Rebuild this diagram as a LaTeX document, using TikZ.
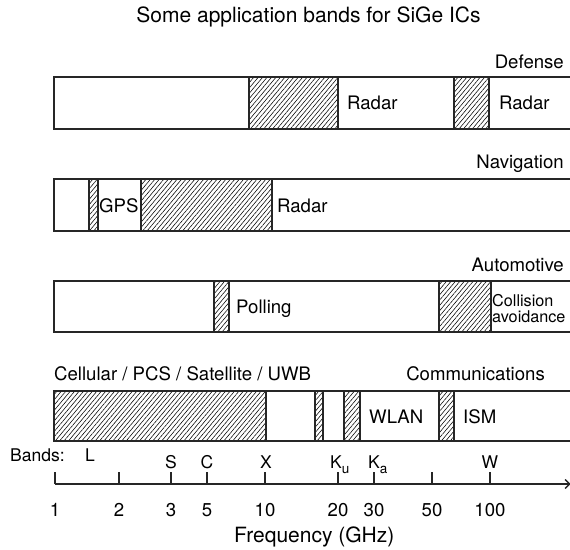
\documentclass[tikz,border=0pt]{standalone}
\usepackage{fontspec}
\setmainfont{TeX Gyre Heros}
\usetikzlibrary{patterns.meta,arrows.meta}

\begin{document}
\begin{tikzpicture}[x=1pt,y=-1pt,
  bandbox/.style={draw=black!85,line width=1.5pt},
  hatched/.style={draw=black!85,line width=1.2pt,
    pattern={Lines[angle=50,distance=3.4pt,line width=0.55pt]}},
  lab/.style={inner sep=0pt,font=\fontsize{18.6}{19}\selectfont},
  bandlab/.style={inner sep=0pt,font=\fontsize{17.5}{18}\selectfont},
  small/.style={inner sep=0pt,font=\fontsize{16.2}{16}\selectfont},
  ttl/.style={inner sep=0pt,font=\fontsize{21}{22}\selectfont},
  axttl/.style={inner sep=0pt,font=\fontsize{21}{22}\selectfont},
  axisline/.style={draw=black!85,line width=1.3pt}
]
\clip (0,0) rectangle (570,549);

% title
\node[ttl,anchor=base] (title) at (308.5,22) {Some application bands for SiGe ICs};

% ---------- Defense ----------
\node[lab,anchor=base east] (defense) at (564,68) {Defense};
\draw[hatched] (249,77) rectangle (338,129);
\draw[hatched] (454,77) rectangle (489,129);
\draw[bandbox] (54,77) rectangle (580,129);
\node[lab,anchor=base west] (radarA) at (347,109.5) {Radar};
\node[lab,anchor=base west] (radarB) at (499,109.5) {Radar};

% ---------- Navigation ----------
\node[lab,anchor=base east] (navigation) at (564,168) {Navigation};
\draw[hatched] (89,179) rectangle (98,231);
\draw[hatched] (141,179) rectangle (272,231);
\draw[bandbox] (54,179) rectangle (580,231);
\node[lab,anchor=base west] (gps) at (99,212.5) {GPS};
\node[lab,anchor=base west] (radarC) at (277,212.5) {Radar};

% ---------- Automotive ----------
\node[lab,anchor=base east] (automotive) at (564,271) {Automotive};
\draw[hatched] (214,281) rectangle (229,332);
\draw[hatched] (439,281) rectangle (491,332);
\draw[bandbox] (54,281) rectangle (580,332);
\node[lab,anchor=base west] (polling) at (236,313) {Polling};
\node[small,anchor=base west] (collision) at (492,306) {Collision};
\node[small,anchor=base west] (avoidance) at (492,322) {avoidance};

% ---------- Communications ----------
\node[lab,anchor=base west] (cellular) at (54,380) {Cellular / PCS / Satellite / UWB};
\node[lab,anchor=base east] (communications) at (545,380) {Communications};
\draw[hatched] (54,391) rectangle (266,441);
\draw[hatched] (315,391) rectangle (323,441);
\draw[hatched] (344,391) rectangle (360,441);
\draw[hatched] (439,391) rectangle (454,441);
\draw[bandbox] (54,391) rectangle (580,441);
\node[lab,anchor=base west] (wlan) at (369,423.5) {WLAN};
\node[lab,anchor=base west] (ism) at (463,423.5) {ISM};

% ---------- frequency axis ----------
\coordinate (axL) at (55,484);
\coordinate (axR) at (570.5,484);
\draw[axisline,-{Straight Barb[length=4.5pt,width=9pt]}] (axL) -- (axR);
\foreach \x/\v [count=\i] in {55/1,119/2,171/3,207/5,265/10,338/20,374/30,432/50,490/100}{
  \draw[axisline] (\x,484) -- (\x,472);
  \node[lab,anchor=base] (tick\i) at (\x,516.5) {\v};
}

% band letters
\node[bandlab,anchor=base west] (bands) at (10,461) {Bands:};
\node[bandlab,anchor=base west] (bandL) at (85,461) {L};
\node[bandlab,anchor=base] (bandS) at (171,468) {S};
\node[bandlab,anchor=base] (bandC) at (207,468) {C};
\node[bandlab,anchor=base] (bandX) at (266,468) {X};
\node[bandlab,anchor=base west] (bandKu) at (330,468) {K\raisebox{-0.3em}{\fontsize{13.5}{13}\selectfont u}};
\node[bandlab,anchor=base west] (bandKa) at (368,468) {K\raisebox{-0.3em}{\fontsize{13.5}{13}\selectfont a}};
\node[bandlab,anchor=base] (bandW) at (490,468) {W};

\node[axttl,anchor=base] (freq) at (314.3,542.5) {Frequency (GHz)};
\end{tikzpicture}
\end{document}
